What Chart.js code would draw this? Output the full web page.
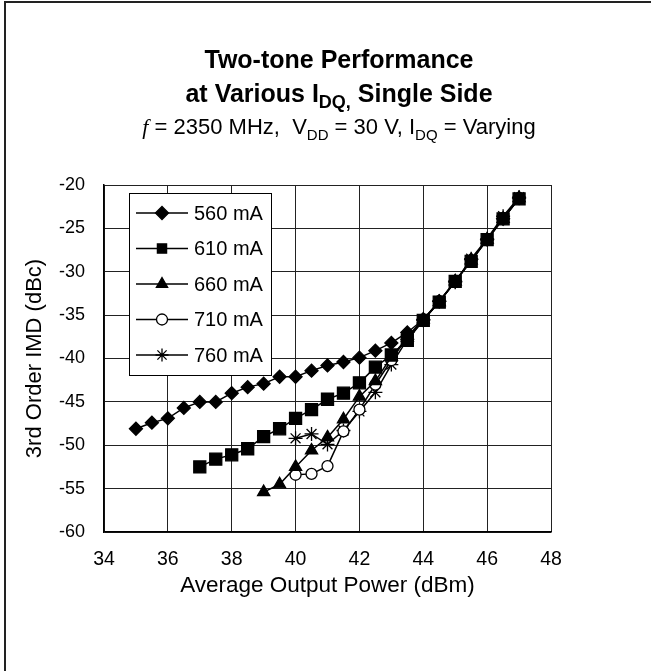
<!DOCTYPE html>
<html>
<head>
<meta charset="utf-8">
<script src="https://cdn.jsdelivr.net/npm/chart.js@4/dist/chart.umd.min.js"></script>
<style>
  html, body { margin: 0; padding: 0; background: #fff; }
  #wrap { width: 651px; height: 671px; }
</style>
</head>
<body>
<div id="wrap"><canvas id="c" width="651" height="671"></canvas></div>
<script>
// ---- data ----
const seriesLabels = ['560 mA', '610 mA', '660 mA', '710 mA', '760 mA'];

const pout560 = [35,35.5,36,36.5,37,37.5,38,38.5,39,39.5,40,40.5,41,41.5,42,42.5,43,43.5,44,44.5,45,45.5,46,46.5,47];
const imd560  = [-48.1,-47.4,-46.9,-45.7,-45.0,-45.0,-44.0,-43.3,-42.9,-42.1,-42.1,-41.4,-40.8,-40.4,-39.9,-39.1,-38.2,-37.0,-35.5,-33.4,-31.1,-28.6,-26.3,-23.9,-21.5];

const pout610 = [37,37.5,38,38.5,39,39.5,40,40.5,41,41.5,42,42.5,43,43.5,44,44.5,45,45.5,46,46.5,47];
const imd610  = [-52.5,-51.6,-51.1,-50.4,-49.0,-48.1,-46.9,-45.9,-44.7,-44.0,-42.8,-41.0,-39.6,-37.9,-35.6,-33.5,-31.1,-28.8,-26.3,-23.9,-21.6];

const pout660 = [39,39.5,40,40.5,41,41.5,42,42.5,43,43.5,44,44.5,45,45.5,46,46.5,47];
const imd660  = [-55.4,-54.5,-52.5,-50.6,-49.1,-47.0,-44.4,-42.6,-39.8,-37.6,-35.5,-33.5,-31.1,-28.7,-26.3,-23.9,-21.5];

const pout710 = [40,40.5,41,41.5,42,42.5,43,43.5,44,44.5,45,45.5,46,46.5,47];
const imd710  = [-53.4,-53.3,-52.4,-48.4,-45.9,-43.0,-40.2,-37.5,-35.5,-33.4,-31.1,-28.7,-26.3,-23.8,-21.5];

const pout760 = [40,40.5,41,41.5,42,42.5,43,43.5,44,44.5,45,45.5,46,46.5,47];
const imd760  = [-49.2,-48.7,-49.9,-48.3,-46.1,-43.9,-40.7,-37.8,-35.6,-33.4,-31.2,-28.5,-26.2,-23.6,-21.4];

const xTickMin = 34, xTickMax = 48, xTickStep = 2;
const yTickMin = -60, yTickMax = -20, yTickStep = 5;

const titleLine1 = 'Two-tone Performance';
const xTitle = 'Average Output Power (dBm)';
const yTitle = '3rd Order IMD (dBc)';

// ---- build datasets ----
function pts(xs, ys) { return xs.map((x, i) => ({ x: x, y: ys[i] })); }
const styles = [
  { pointStyle: 'rectRot',  pointRadius: 6.5, bg: '#000' },
  { pointStyle: 'rect',     pointRadius: 8.5, bg: '#000' },
  { pointStyle: 'triangle', pointRadius: 7,   bg: '#000' },
  { pointStyle: 'circle',   pointRadius: 5.5, bg: '#fff' },
  { pointStyle: 'star',     pointRadius: 7,   bg: '#000' }
];
const allData = [pts(pout560, imd560), pts(pout610, imd610), pts(pout660, imd660), pts(pout710, imd710), pts(pout760, imd760)];
const datasets = allData.map((d, i) => ({
  label: seriesLabels[i],
  data: d,
  borderColor: '#000',
  borderWidth: 1.5,
  backgroundColor: styles[i].bg,
  pointStyle: styles[i].pointStyle,
  pointRadius: styles[i].pointRadius,
  pointBackgroundColor: styles[i].bg,
  pointBorderColor: '#000',
  pointBorderWidth: 1.3,
  tension: 0,
  fill: false
}));

const FONT = '"Liberation Sans", Arial, sans-serif';

// text runs helper: [text, kind] kind: 'n' normal, 's' subscript, 'i' italic
function drawRuns(ctx, runs, cx, baseY, size, bold) {
  const w = bold ? 'bold ' : '';
  const fontFor = (k) => {
    if (k === 's') return w + Math.round(size * 0.7) + 'px ' + FONT;
    if (k === 'i') return 'italic ' + w + size + 'px "Liberation Serif", "Times New Roman", serif';
    return w + size + 'px ' + FONT;
  };
  let total = 0;
  runs.forEach(r => { ctx.font = fontFor(r[1]); total += ctx.measureText(r[0]).width; });
  let x = cx - total / 2;
  ctx.textAlign = 'left';
  ctx.textBaseline = 'alphabetic';
  ctx.fillStyle = '#000';
  runs.forEach(r => {
    ctx.font = fontFor(r[1]);
    const dy = r[1] === 's' ? size * 0.25 : 0;
    ctx.fillText(r[0], x, baseY + dy);
    x += ctx.measureText(r[0]).width;
  });
}

const decorPlugin = {
  id: 'decor',
  beforeDraw(chart) {
    const ctx = chart.ctx;
    ctx.save();
    ctx.fillStyle = '#fff';
    ctx.fillRect(0, 0, chart.width, chart.height);
    ctx.strokeStyle = '#222';
    ctx.lineWidth = 2;
    ctx.beginPath();
    ctx.moveTo(5, chart.height + 5);
    ctx.lineTo(5, 2);
    ctx.lineTo(chart.width + 5, 2);
    ctx.stroke();
    ctx.restore();
  },
  afterDraw(chart) {
    const ctx = chart.ctx;
    const cx = 339;
    ctx.save();
    drawRuns(ctx, [[titleLine1, 'n']], cx, 68, 25, true);
    drawRuns(ctx, [['at Various I', 'n'], ['DQ,', 's'], [' Single Side', 'n']], cx, 102, 25, true);
    drawRuns(ctx, [['f', 'i'], [' = 2350 MHz,  V', 'n'], ['DD', 's'], [' = 30 V, I', 'n'], ['DQ', 's'], [' = Varying', 'n']], cx, 134, 22, false);

    // legend
    const bx = 129, by = 193, bw = 142, bh = 182;
    ctx.fillStyle = '#fff';
    ctx.fillRect(bx, by, bw, bh);
    ctx.strokeStyle = '#000';
    ctx.lineWidth = 1;
    ctx.strokeRect(bx + 0.5, by + 0.5, bw, bh);
    chart.data.datasets.forEach((ds, i) => {
      const y = 213 + i * 35.5;
      ctx.strokeStyle = '#000';
      ctx.lineWidth = 1.5;
      ctx.beginPath();
      ctx.moveTo(136, y);
      ctx.lineTo(188, y);
      ctx.stroke();
      ctx.fillStyle = ds.pointBackgroundColor;
      ctx.strokeStyle = '#000';
      ctx.lineWidth = ds.pointBorderWidth;
      Chart.helpers.drawPoint(ctx, { pointStyle: ds.pointStyle, radius: Math.min(ds.pointRadius, 6.5), rotation: 0, borderWidth: ds.pointBorderWidth }, 162, y);
      ctx.fillStyle = '#000';
      ctx.font = '20px ' + FONT;
      ctx.textAlign = 'left';
      ctx.textBaseline = 'middle';
      ctx.fillText(ds.label, 194, y + 1);
    });
    ctx.restore();
  }
};

new Chart(document.getElementById('c'), {
  type: 'line',
  data: { datasets: datasets },
  plugins: [decorPlugin],
  options: {
    responsive: false,
    animation: false,
    events: [],
    layout: { padding: { left: 0, top: 185, right: 100, bottom: 69 } },
    plugins: { legend: { display: false }, title: { display: false }, tooltip: { enabled: false } },
    scales: {
      x: {
        type: 'linear',
        min: xTickMin, max: xTickMax,
        ticks: { stepSize: xTickStep, color: '#000', font: { family: FONT, size: 19.5 }, padding: 16, maxRotation: 0 },
        grid: { color: '#222', lineWidth: 1, drawTicks: false },
        border: { display: true, color: '#000', width: 1.5 },
        title: { display: true, text: xTitle, color: '#000', font: { family: FONT, size: 22.5 }, padding: { top: 0, bottom: 3 } },
        afterFit(scale) { scale.height = 70; }
      },
      y: {
        type: 'linear',
        min: yTickMin, max: yTickMax,
        ticks: { stepSize: yTickStep, color: '#000', font: { family: FONT, size: 18 }, padding: 19 },
        grid: { color: '#222', lineWidth: 1, drawTicks: false },
        border: { display: true, color: '#000', width: 1.5 },
        title: { display: true, text: yTitle, color: '#000', font: { family: FONT, size: 22 }, padding: { top: 22, bottom: 0 } },
        afterFit(scale) { scale.width = 104; }
      }
    }
  }
});
</script>
</body>
</html>
